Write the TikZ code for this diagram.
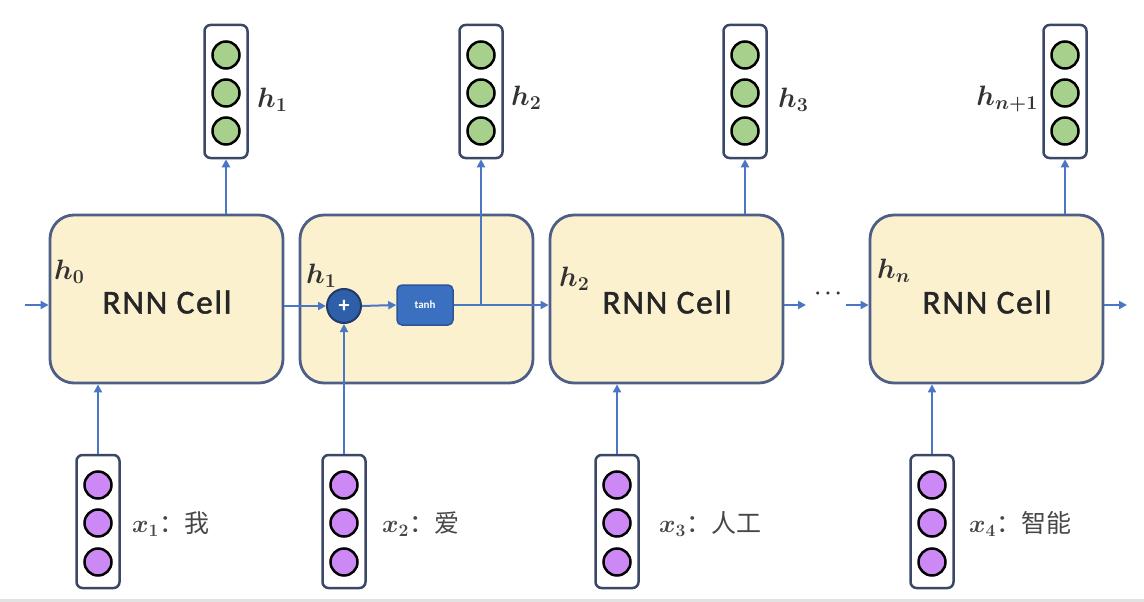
\documentclass[tikz,border=0pt]{standalone}
\usepackage{fix-cm}
\usepackage{fontspec}
\setsansfont{Carlito}
\newfontfamily\cjk{Noto Sans CJK SC}
\newfontfamily\cellfont[LetterSpace=5,FakeBold=1.4]{Carlito}
\usetikzlibrary{arrows.meta}
\definecolor{cellfill}{HTML}{FCF1CF}
\definecolor{cellborder}{HTML}{4D5F86}
\definecolor{arrowblue}{HTML}{4A76C6}
\definecolor{vecborder}{HTML}{3B4767}
\definecolor{gfill}{HTML}{A8D08D}
\definecolor{pfill}{HTML}{CC88F5}
\definecolor{plusfill}{HTML}{2F5FA8}
\definecolor{plusborder}{HTML}{203A6A}
\definecolor{tanhfill}{HTML}{3B6FBF}
\definecolor{tanhborder}{HTML}{2D5596}
\definecolor{labelgray}{HTML}{333333}
\definecolor{stripgray}{HTML}{E2E2E2}
\begin{document}
\begin{tikzpicture}[x=1pt,y=-1pt,
  cell/.style={draw=cellborder, line width=2.8pt, fill=cellfill, rounded corners=24pt,
    minimum width=233pt, minimum height=168pt, inner sep=0pt},
  celltext/.style={font=\cellfont\fontsize{33.5}{37}\selectfont, text=black!85, inner sep=0pt},
  vecbox/.style={draw=vecborder, line width=2.5pt, rounded corners=6pt, fill=white,
    minimum width=43pt, minimum height=133pt, inner sep=0pt},
  gball/.style={circle, draw=black, line width=2.5pt, fill=gfill, minimum size=27pt, inner sep=0pt},
  pball/.style={circle, draw=black, line width=2.5pt, fill=pfill, minimum size=27pt, inner sep=0pt},
  conn/.style={draw=arrowblue, line width=2pt, -{Triangle[length=8pt,width=8pt]}},
  hlabel/.style={font=\boldmath\fontsize{28}{32}\selectfont, text=labelgray, inner sep=0pt},
  xlabel/.style={font=\boldmath\fontsize{25}{29}\selectfont, text=labelgray!90, inner sep=0pt, anchor=west}
]
\useasboundingbox (0,0) rectangle (1144,602);
\fill[stripgray] (0,599) rectangle (1144,602);

% cells
\node[cell] (c1) at (166.5,299) {};
\node[cell] (c2) at (416.5,299) {};
\node[cell] (c3) at (666.5,299) {};
\node[cell] (c4) at (986.5,299) {};
\node[celltext] (t1) at (167,302) {RNN Cell};
\node[celltext] (t3) at (667,302) {RNN Cell};
\node[celltext] (t4) at (987,302) {RNN Cell};

% labels inside cells
\node[hlabel, anchor=west] (l0) at (54,272) {$h_0$};
\node[hlabel, anchor=west] (l1) at (306,276) {$h_1$};
\node[hlabel, anchor=west] (l2) at (559,279) {$h_2$};
\node[hlabel, anchor=west] (ln) at (877,271) {$h_n$};

% plus and tanh
\node[circle, fill=plusfill, draw=plusborder, line width=2pt, minimum size=34pt, inner sep=0pt,
  text=white, font=\sffamily\bfseries\fontsize{22}{22}\selectfont] (plus) at (344,306) {+};
\node[draw=tanhborder, fill=tanhfill, line width=1.5pt, rounded corners=5pt, minimum width=56pt,
  minimum height=40pt, inner sep=0pt, text=white, font=\sffamily\bfseries\fontsize{11}{13}\selectfont]
  (tanh) at (425,305) {tanh};

% top vectors
\foreach \n/\x in {v1/226, v2/481, v3/745, v4/1065}{
  \node[vecbox] (\n) at (\x,91.5) {};
  \node[gball] (\n a) at (\x,55) {};
  \node[gball] (\n b) at (\x,93) {};
  \node[gball] (\n c) at (\x,131) {};
}
% bottom vectors
\foreach \n/\x in {x1/98, x2/344, x3/617, x4/932}{
  \node[vecbox] (\n) at (\x,521.5) {};
  \node[pball] (\n a) at (\x,485) {};
  \node[pball] (\n b) at (\x,523) {};
  \node[pball] (\n c) at (\x,562) {};
}

% top labels
\node[hlabel, anchor=west] (o1) at (257,100) {$h_1$};
\node[hlabel, anchor=west] (o2) at (511,98) {$h_2$};
\node[hlabel, anchor=west] (o3) at (778,100) {$h_3$};
\node[hlabel, anchor=east] (o4) at (1038,99) {$h_{n+1}$};

% bottom labels
\node[xlabel] (i1) at (132,524) {$x_1$\cjk：我};
\node[xlabel] (i2) at (382,524) {$x_2$\cjk：爱};
\node[xlabel] (i3) at (659,524) {$x_3$\cjk：人工};
\node[xlabel] (i4) at (969,524) {$x_4$\cjk：智能};

% horizontal connectors
\coordinate (in) at (25,305);
\coordinate (d1) at (806,305);
\coordinate (d2) at (846,305);
\coordinate (out) at (1127,305);
\coordinate (br) at (481,305);
\node[font=\boldmath\fontsize{20}{20}\selectfont, text=black!80, inner sep=0pt] (dots) at (828,294) {$\cdots$};
\draw[conn] (in) -- (in -| c1.west);
\draw[conn] (plus.west -| c1.east) -- (plus.west);
\draw[conn] (plus.east) -- (tanh.west);
\draw[conn] (tanh.east) -- (tanh.east -| c3.west);
\draw[conn] (c3.east |- d1) -- (d1);
\draw[conn] (d2) -- (d2 -| c4.west);
\draw[conn] (c4.east |- out) -- (out);

% vertical connectors
\draw[conn] (v1.south |- c1.north) -- (v1.south);
\draw[conn] (br) -- (v2.south);
\draw[conn] (v3.south |- c3.north) -- (v3.south);
\draw[conn] (v4.south |- c4.north) -- (v4.south);
\draw[conn] (x1.north) -- (x1.north |- c1.south);
\draw[conn] (x2.north) -- (plus.south);
\draw[conn] (x3.north) -- (x3.north |- c3.south);
\draw[conn] (x4.north) -- (x4.north |- c4.south);
\end{tikzpicture}
\end{document}
